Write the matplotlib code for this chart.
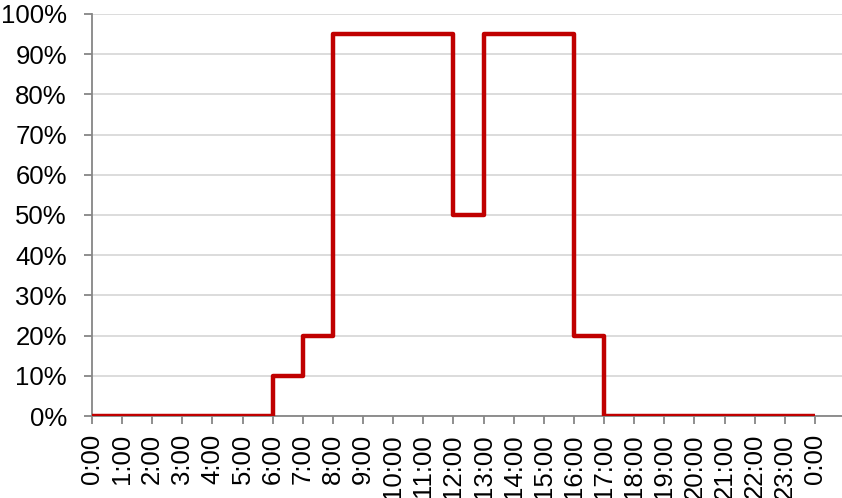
import numpy as np
import matplotlib.pyplot as plt

plt.rcParams['font.family'] = ['Liberation Sans', 'DejaVu Sans']

# hourly occupancy profile, value holds from each hour until the next
hours = list(range(25))
occupancy = [0, 0, 0, 0, 0, 0, 10, 20, 95, 95, 95, 95, 50, 95, 95, 95, 20,
             0, 0, 0, 0, 0, 0, 0, 0]
hour_labels = ['%d:00' % (h % 24) for h in hours]

fig = plt.figure(figsize=(8.42, 4.98), dpi=100)
ax = fig.add_axes([92 / 842, 1 - 416 / 498, 1 - 92 / 842, (416 - 14) / 498])

ax.step(hours, occupancy, where='post', color='#C00000', lw=3.2,
        solid_joinstyle='round', solid_capstyle='butt', zorder=3)

ax.set_xlim(0, 24.9)
ax.set_ylim(0, 100)
ax.set_yticks(np.arange(0, 101, 10))
ax.set_yticklabels(['%d%%' % v for v in range(0, 101, 10)], fontsize=18.5)
ax.set_xticks(hours)
ax.set_xticklabels(hour_labels, rotation=90, fontsize=18.5)

ax.grid(axis='y', color='#D9D9D9', lw=1.3)
ax.set_axisbelow(True)
for s in ['top', 'right']:
    ax.spines[s].set_visible(False)
for s in ['left', 'bottom']:
    ax.spines[s].set_color('#868686')
    ax.spines[s].set_linewidth(1.3)
ax.tick_params(axis='both', colors='#868686', length=6, width=1.3,
               labelcolor='black')
ax.tick_params(axis='y', pad=12)
ax.tick_params(axis='x', pad=7)

fig.savefig('out.png', dpi=100)
